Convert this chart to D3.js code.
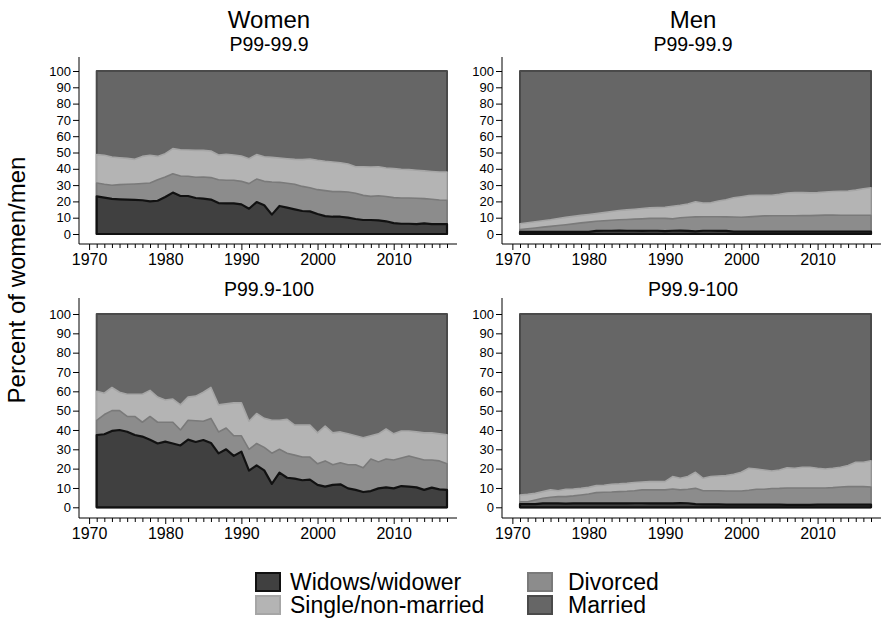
<!DOCTYPE html>
<html>
<head>
<meta charset="utf-8">
<script src="https://cdn.jsdelivr.net/npm/d3@7"></script>
<style>
  body { margin: 0; background: #fff; }
  svg { display: block; }
  text { font-family: "Liberation Sans", Arial, sans-serif; fill: #000; }
</style>
</head>
<body>
<svg id="chart" width="883" height="621"></svg>
<script>
// ---- Data: marital status shares (percent) of top earners, 1971-2017 ----
const years = [1971,1972,1973,1974,1975,1976,1977,1978,1979,1980,1981,1982,1983,1984,1985,1986,1987,1988,1989,1990,
  1991,1992,1993,1994,1995,1996,1997,1998,1999,2000,2001,2002,2003,2004,2005,2006,2007,2008,2009,2010,
  2011,2012,2013,2014,2015,2016,2017];

const statusKeys = ["widowed", "divorced", "single", "married"];
const statusLabels = ["Widows/widower", "Divorced", "Single/non-married", "Married"];
const columnTitles = ["Women", "Men"];
const groupTitles = ["P99-99.9", "P99.9-100"];
const yTicks = [0,10,20,30,40,50,60,70,80,90,100];
const xTickLabels = [1970,1980,1990,2000,2010];

// Women, P99-99.9
const womenTopWidowed  = [23.1,22.3,21.5,21.3,21.1,20.9,20.7,20.0,20.4,22.7,25.4,23.3,23.3,22.1,21.7,21.1,19.0,18.8,18.8,18.2,15.5,19.6,17.6,11.9,17.2,16.2,15.1,14.1,13.9,12.3,11.0,10.6,10.6,10.0,9.2,8.6,8.6,8.4,7.8,6.7,6.3,6.3,6.1,6.5,6.1,6.1,6.1];
const womenTopDivorced = [8.2,8.2,8.4,9.0,9.4,9.8,10.3,11.3,12.9,12.3,11.6,12.3,12.1,12.7,13.3,13.5,14.3,14.2,14.2,14.1,15.4,14.1,14.7,20.0,14.5,14.9,15.4,15.1,14.5,14.9,15.6,15.4,15.4,15.8,15.8,15.1,14.5,15.1,15.2,15.6,15.8,15.8,15.8,15.2,15.2,14.8,14.6];
const womenTopSingle   = [17.4,17.8,17.3,16.5,15.9,15.1,16.6,17.0,14.3,14.3,15.4,16.1,16.1,16.5,16.3,16.3,15.2,15.9,15.5,15.6,15.3,15.0,15.1,15.1,14.9,15.1,15.3,16.4,17.6,18.0,18.0,18.2,17.7,17.1,16.3,17.6,18.0,17.8,17.5,17.8,17.6,17.4,17.2,17.0,17.0,17.1,17.3];
const womenTopMarried  = [51.3,51.7,52.8,53.2,53.6,54.2,52.4,51.7,52.4,50.7,47.6,48.3,48.5,48.7,48.7,49.1,51.5,51.1,51.5,52.1,53.8,51.3,52.6,53.0,53.4,53.8,54.2,54.4,54.0,54.8,55.4,55.8,56.3,57.1,58.7,58.7,58.9,58.7,59.5,59.9,60.3,60.5,60.9,61.3,61.7,62.0,62.0];

// Men, P99-99.9
const menTopWidowed  = [1.3,1.3,1.3,1.3,1.3,1.3,1.3,1.3,1.3,1.3,1.9,2.0,2.0,2.1,2.0,2.0,1.9,2.0,2.0,1.8,2.0,2.1,1.9,1.6,2.0,2.0,1.9,1.9,1.4,1.4,1.4,1.4,1.4,1.4,1.4,1.4,1.4,1.4,1.4,1.4,1.4,1.4,1.4,1.4,1.4,1.4,1.4];
const menTopDivorced = [1.4,1.9,2.4,2.9,3.4,3.9,4.4,4.9,5.5,6.0,5.9,6.1,6.4,6.6,6.9,7.1,7.4,7.6,7.7,7.8,7.3,7.9,8.4,8.9,8.6,8.6,8.7,8.6,9.0,8.9,9.1,9.4,9.7,9.8,9.8,9.8,9.8,9.9,9.9,10.0,10.2,10.2,10.1,10.1,10.1,10.1,10.1];
const menTopSingle   = [3.6,3.7,3.8,3.9,4.0,4.3,4.5,4.6,4.6,4.7,4.7,5.0,5.4,5.7,5.9,6.1,6.3,6.4,6.5,6.8,7.7,7.6,8.1,9.3,8.4,8.6,9.6,10.5,11.8,12.6,13.1,13.0,12.6,12.6,13.1,14.0,14.3,14.1,13.9,14.0,14.2,14.5,14.7,14.9,15.4,16.3,16.9];
const menTopMarried  = [93.7,93.1,92.5,91.9,91.3,90.5,89.8,89.2,88.6,88.0,87.5,86.9,86.2,85.6,85.2,84.8,84.4,84.0,83.8,83.6,83.0,82.4,81.6,80.2,81.0,80.8,79.8,79.0,77.8,77.1,76.4,76.2,76.3,76.2,75.7,74.8,74.5,74.6,74.8,74.6,74.2,73.9,73.8,73.6,73.1,72.2,71.6];

// Women, P99.9-100
const womenBottomWidowed  = [37.4,37.8,39.5,40.0,39.1,37.4,36.6,35.0,33.0,34.0,33.0,32.0,35.0,33.8,34.8,33.3,27.9,30.0,26.6,28.8,19.0,21.7,19.1,12.1,17.9,15.3,14.8,14.0,14.3,11.6,10.7,11.6,11.9,9.8,9.0,7.9,8.4,9.8,10.3,9.8,11.0,10.7,10.3,9.0,10.2,9.3,9.0];
const womenBottomDivorced = [7.6,10.2,10.5,10.0,7.9,9.6,7.4,12.0,11.0,10.0,11.0,8.0,10.0,11.0,9.7,12.7,11.1,11.0,10.4,8.2,11.0,11.3,11.9,15.9,12.1,12.7,12.2,12.0,11.7,10.9,13.3,10.4,11.1,12.2,13.0,12.6,16.6,13.7,14.7,14.7,14.5,15.8,15.2,15.5,14.3,14.7,13.5];
const womenBottomSingle   = [15.0,11.0,12.0,9.5,11.5,11.5,14.5,13.5,13.0,11.5,12.0,13.0,12.0,12.7,15.0,16.0,14.0,12.5,17.0,17.0,14.5,15.5,15.0,17.0,15.0,17.5,15.5,16.5,16.5,16.0,18.0,16.5,16.0,16.0,15.0,15.5,12.0,14.5,15.5,13.5,14.0,13.0,13.5,14.0,14.0,14.0,15.0];
const womenBottomMarried  = [40.0,41.0,38.0,40.5,41.5,41.5,41.5,39.5,43.0,44.5,44.0,47.0,43.0,42.5,40.5,38.0,47.0,46.5,46.0,46.0,55.5,51.5,54.0,55.0,55.0,54.5,57.5,57.5,57.5,61.5,58.0,61.5,61.0,62.0,63.0,64.0,63.0,62.0,59.5,62.0,60.5,60.5,61.0,61.5,61.5,62.0,62.5];

// Men, P99.9-100
const menBottomWidowed  = [1.6,1.6,1.6,2.0,2.0,2.0,1.9,2.0,2.0,2.0,2.0,2.0,2.0,2.0,2.0,2.1,2.1,2.0,2.0,2.0,2.0,2.2,2.1,1.6,1.5,1.5,1.5,1.4,1.4,1.4,1.4,1.4,1.4,1.4,1.4,1.3,1.3,1.3,1.3,1.4,1.4,1.4,1.4,1.4,1.4,1.4,1.4];
const menBottomDivorced = [1.3,1.3,2.2,2.7,3.2,3.5,3.6,3.9,4.4,4.9,5.6,5.8,5.9,6.1,6.3,6.5,6.9,7.0,7.0,7.0,7.5,6.8,7.2,8.2,7.1,7.1,7.1,7.0,7.0,7.0,7.4,7.9,7.9,8.3,8.4,8.7,8.7,8.7,8.7,8.6,8.6,8.8,9.1,9.3,9.3,9.3,9.1];
const menBottomSingle   = [3.5,3.8,3.4,3.4,3.8,3.1,3.8,3.6,3.4,3.4,3.6,3.6,4.0,4.0,4.1,4.2,4.1,4.3,4.3,4.3,6.4,6.0,6.6,8.3,6.4,7.3,7.6,8.0,8.7,9.7,11.4,10.5,10.0,9.1,9.5,10.5,10.2,10.7,10.7,10.2,9.8,10.0,10.2,10.9,12.6,12.6,13.6];
const menBottomMarried  = [93.6,93.3,92.8,91.9,91.0,91.4,90.7,90.5,90.2,89.7,88.8,88.6,88.1,87.9,87.6,87.2,86.9,86.7,86.7,86.7,84.1,85.0,84.1,81.9,85.0,84.1,83.8,83.6,82.9,81.9,79.8,80.2,80.7,81.2,80.7,79.5,79.8,79.3,79.3,79.8,80.2,79.8,79.3,78.4,76.7,76.7,75.9];

// ---- Styles per status ----
const fills   = { widowed: "#404040", divorced: "#8c8c8c", single: "#b4b4b4", married: "#666666" };
const strokes = { widowed: "#111111", divorced: "#7a7a7a", single: "#a6a6a6", married: "#4a4a4a" };
const strokeW = { widowed: 2.2, divorced: 1.6, single: 1.6, married: 2 };

// ---- Build rows per panel ----
function rows(w, d, s, m) {
  return years.map((yr, i) => ({ year: yr, widowed: w[i], divorced: d[i], single: s[i], married: m[i] }));
}

const panels = [
  { col: 0, row: 0, data: rows(womenTopWidowed, womenTopDivorced, womenTopSingle, womenTopMarried) },
  { col: 1, row: 0, data: rows(menTopWidowed, menTopDivorced, menTopSingle, menTopMarried) },
  { col: 0, row: 1, data: rows(womenBottomWidowed, womenBottomDivorced, womenBottomSingle, womenBottomMarried) },
  { col: 1, row: 1, data: rows(menBottomWidowed, menBottomDivorced, menBottomSingle, menBottomMarried) }
];

// ---- Layout ----
const colLayout = [
  { axisX: 79,  x0: 96.7, x1: 447, axisEnd: 457, center: 269 },
  { axisX: 502, x0: 520,  x1: 871, axisEnd: 881, center: 693 }
];
const rowLayout = [
  { y0: 234,   y100: 71,  axisTop: 57,  axisY: 244, subtitleY: 51 },
  { y0: 507.3, y100: 314, axisTop: 298, axisY: 518, subtitleY: 296 }
];

const svg = d3.select("#chart");

// column titles
columnTitles.forEach((t, c) => {
  svg.append("text")
    .attr("x", colLayout[c].center).attr("y", 28)
    .attr("text-anchor", "middle")
    .style("font-size", "24px")
    .text(t);
});

// y-axis title
svg.append("text")
  .attr("transform", "translate(25,280) rotate(-90)")
  .attr("text-anchor", "middle")
  .style("font-size", "24px")
  .text("Percent of women/men");

const stack = d3.stack().keys(statusKeys);

panels.forEach(p => {
  const cl = colLayout[p.col], rl = rowLayout[p.row];
  const x = d3.scaleLinear().domain([years[0], years[years.length - 1]]).range([cl.x0, cl.x1]);
  const y = d3.scaleLinear().domain([0, 100]).range([rl.y0, rl.y100]);
  const g = svg.append("g");

  // subtitle
  g.append("text")
    .attr("x", cl.center).attr("y", rl.subtitleY)
    .attr("text-anchor", "middle")
    .style("font-size", "19.5px")
    .text(groupTitles[p.row]);

  // cumulative areas drawn from zero, outermost first
  const series = stack(p.data);
  const area = d3.area()
    .x(d => x(d.data.year))
    .y0(y(0))
    .y1(d => y(d[1]));

  series.slice().reverse().forEach(s => {
    g.append("path")
      .datum(s)
      .attr("d", area)
      .attr("fill", fills[s.key])
      .attr("stroke", strokes[s.key])
      .attr("stroke-width", strokeW[s.key])
      .attr("stroke-linejoin", "round");
  });

  // y axis
  const yAxis = d3.axisLeft(y).tickValues(yTicks).tickSize(6).tickPadding(2).tickFormat(d3.format("d"));
  const ya = g.append("g").attr("transform", `translate(${cl.axisX},0)`).call(yAxis);
  ya.select(".domain").remove();
  ya.selectAll("text").style("font-size", "13px").attr("fill", "#000");
  ya.selectAll("line").attr("stroke", "#000");
  g.append("line")
    .attr("x1", cl.axisX).attr("x2", cl.axisX)
    .attr("y1", rl.axisTop).attr("y2", rl.axisY)
    .attr("stroke", "#000");

  // x axis: a tick every year, labels every decade
  const xTickYears = [1970].concat(years);
  const xAxis = d3.axisBottom(x).tickValues(xTickYears).tickSize(4).tickPadding(3)
    .tickFormat(d => xTickLabels.includes(d) ? d : "");
  const xa = g.append("g").attr("transform", `translate(0,${rl.axisY})`).call(xAxis);
  xa.select(".domain").remove();
  xa.selectAll(".tick line").attr("stroke", "#000")
    .attr("y2", d => xTickLabels.includes(d) ? 6 : 4);
  xa.selectAll("text").style("font-size", "16px").attr("fill", "#000").attr("dy", "0.9em");
  g.append("line")
    .attr("x1", cl.axisX).attr("x2", cl.axisEnd)
    .attr("y1", rl.axisY).attr("y2", rl.axisY)
    .attr("stroke", "#000");
});

// ---- Legend ----
const legendPos = [
  { key: "widowed",  x: 255, y: 572, tx: 290 },
  { key: "divorced", x: 527, y: 572, tx: 568 },
  { key: "single",   x: 255, y: 595, tx: 290 },
  { key: "married",  x: 527, y: 595, tx: 568 }
];
legendPos.forEach(l => {
  const lg = svg.append("g");
  lg.append("rect")
    .attr("x", l.x + 1).attr("y", l.y + 1).attr("width", 24).attr("height", 18)
    .attr("fill", fills[l.key]).attr("stroke", strokes[l.key]).attr("stroke-width", 2);
  lg.append("text")
    .attr("x", l.tx).attr("y", l.y + 18)
    .style("font-size", "23px")
    .text(statusLabels[statusKeys.indexOf(l.key)]);
});
</script>
</body>
</html>
